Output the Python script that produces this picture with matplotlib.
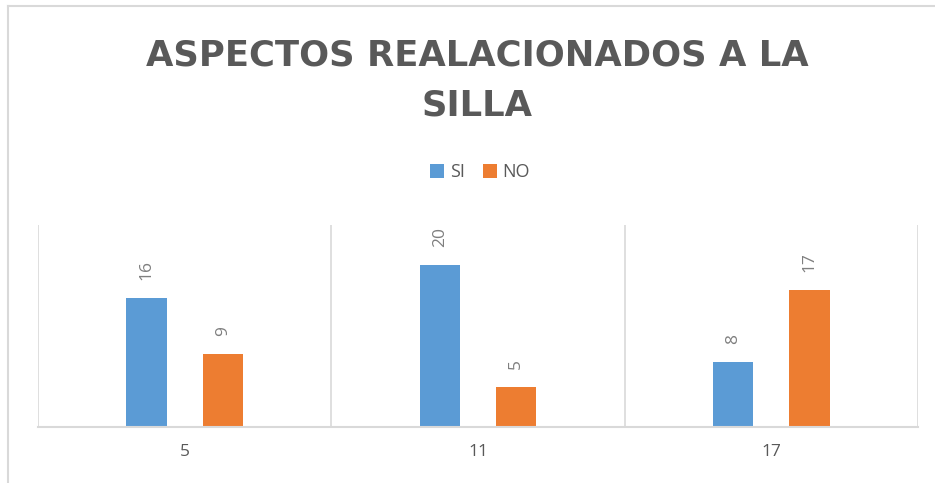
import matplotlib.pyplot as plt
from matplotlib.lines import Line2D
import numpy as np

# Data
categories = ["5", "11", "17"]
si_values = [16, 20, 8]
no_values = [9, 5, 17]

BLUE = "#5B9BD5"
ORANGE = "#ED7D31"
GRID = "#D9D9D9"
TEXT = "#595959"

plt.rcParams["font.family"] = ["Open Sans", "DejaVu Sans"]

fig = plt.figure(figsize=(9.35, 4.83), dpi=100)
ax = fig.add_axes([38 / 935, 56 / 483, 880 / 935, 202 / 483])

x = np.arange(len(categories))
offset = 0.13
width = 0.137

bars_si = ax.bar(x - offset, si_values, width, color=BLUE, label="SI")
bars_no = ax.bar(x + offset, no_values, width, color=ORANGE, label="NO")

# rotated value labels
for bars in (bars_si, bars_no):
    for b in bars:
        ax.annotate(str(int(b.get_height())),
                    (b.get_x() + b.get_width() / 2, b.get_height()),
                    xytext=(0, 13), textcoords="offset points",
                    rotation=90, ha="center", va="bottom",
                    fontsize=12.5, color="#7F7F7F")

ax.set_xlim(-0.5, len(categories) - 0.5)
ax.set_ylim(0, 25)

# separators between categories
for b in np.arange(-0.5, len(categories), 1.0):
    ax.axvline(b, color=GRID, lw=1.2, zorder=0)

for s in ["top", "right", "left"]:
    ax.spines[s].set_visible(False)
ax.spines["bottom"].set_color(GRID)
ax.spines["bottom"].set_linewidth(1.5)

ax.set_yticks([])
ax.set_xticks(x)
ax.set_xticklabels(categories, fontsize=12.5, color=TEXT)
ax.tick_params(axis="x", length=0, pad=12)

# Title
title_font = dict(ha="center", va="center", fontsize=25.5, fontweight="bold",
                  color=TEXT, family="DejaVu Sans")
fig.text(477 / 935, 1 - 55 / 483, "ASPECTOS REALACIONADOS A LA", **title_font)
fig.text(477 / 935, 1 - 106 / 483, "SILLA", **title_font)

# Legend
fig.legend(handles=[bars_si, bars_no], labels=["SI", "NO"],
           loc="center", bbox_to_anchor=(480 / 935, 1 - 172 / 483),
           ncol=2, frameon=False, fontsize=13, handlelength=0.8,
           handleheight=0.8, handletextpad=0.3, columnspacing=1.0,
           labelcolor=TEXT)

# outer frame lines
fig.add_artist(Line2D([8 / 935, 8 / 935], [0, 1 - 6 / 483], color=GRID, lw=1.5,
                      transform=fig.transFigure))
fig.add_artist(Line2D([8 / 935, 1], [1 - 6 / 483, 1 - 6 / 483], color=GRID, lw=1.5,
                      transform=fig.transFigure))

fig.savefig("out.png", dpi=100)
